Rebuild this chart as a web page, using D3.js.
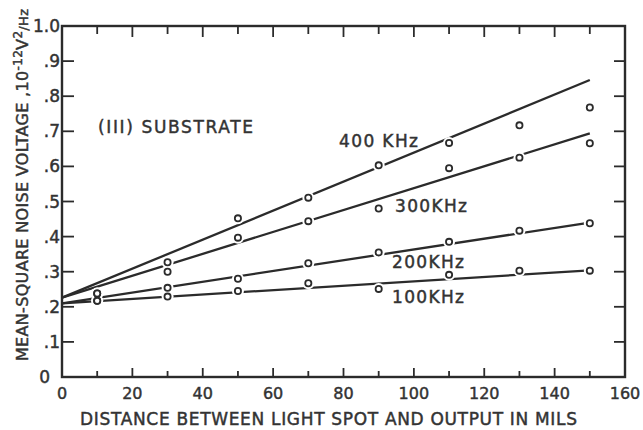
<!DOCTYPE html>
<html>
<head>
<meta charset="utf-8">
<script src="https://cdn.jsdelivr.net/npm/d3@7"></script>
<style>
  body { margin: 0; background: #fff; }
  text { font-family: "DejaVu Sans", sans-serif; fill: #333; stroke: #333; stroke-width: 0.45px; }
</style>
</head>
<body>
<div id="chart"></div>
<script>
// distance from light spot to output (mils)
const distance = [10, 30, 50, 70, 90, 110, 130, 150];
// measured mean-square noise voltage, 1e-12 V^2/Hz
const v400 = [0.238, 0.327, 0.452, 0.511, 0.603, 0.667, 0.717, 0.768];
const v300 = [0.238, 0.300, 0.397, 0.444, 0.480, 0.595, 0.625, 0.666];
const v200 = [0.217, 0.254, 0.280, 0.324, 0.355, 0.385, 0.417, 0.438];
const v100 = [0.217, 0.229, 0.245, 0.267, 0.251, 0.291, 0.303, 0.303];
// fitted straight lines, value at x = 0 and x = 150
const fitX = [0, 150];
const fit400 = [0.226, 0.846];
const fit300 = [0.226, 0.694];
const fit200 = [0.210, 0.440];
const fit100 = [0.210, 0.304];
const seriesNames = ["400 KHz", "300KHz", "200KHz", "100KHz"];
const xTicks = [0, 20, 40, 60, 80, 100, 120, 140, 160];
const yTicks = [0, 0.1, 0.2, 0.3, 0.4, 0.5, 0.6, 0.7, 0.8, 0.9, 1.0];

const W = 643, H = 430;
const ink = "#2b2b2b";

const svg = d3.select("#chart").append("svg")
    .attr("width", W)
    .attr("height", H);

const x = d3.scaleLinear().domain([0, 160]).range([62, 625]);
const y = d3.scaleLinear().domain([0, 1]).range([377, 26]);

// frame
svg.append("rect")
    .attr("x", x(0)).attr("y", y(1))
    .attr("width", x(160) - x(0)).attr("height", y(0) - y(1))
    .attr("fill", "none").attr("stroke", ink).attr("stroke-width", 2.4);

// inward ticks, every 10 mils, longer at every 20
const minorX = d3.range(10, 160, 10);
const tickG = svg.append("g").attr("stroke", ink).attr("stroke-width", 1.8);
tickG.selectAll(".tb").data(minorX).enter().append("line")
    .attr("x1", d => x(d)).attr("x2", d => x(d))
    .attr("y1", y(0)).attr("y2", d => y(0) - (d % 20 === 0 ? 9 : 6));
tickG.selectAll(".tt").data(minorX).enter().append("line")
    .attr("x1", d => x(d)).attr("x2", d => x(d))
    .attr("y1", y(1)).attr("y2", d => y(1) + (d % 20 === 0 ? 11 : 8));
const innerY = yTicks.slice(1, -1);
tickG.selectAll(".tl").data(innerY).enter().append("line")
    .attr("x1", x(0)).attr("x2", x(0) + 12)
    .attr("y1", d => y(d)).attr("y2", d => y(d));
tickG.selectAll(".tr").data(innerY).enter().append("line")
    .attr("x1", x(160)).attr("x2", x(160) - 11)
    .attr("y1", d => y(d)).attr("y2", d => y(d));

// tick labels
svg.selectAll(".xl").data(xTicks).enter().append("text")
    .attr("x", d => x(d)).attr("y", 399)
    .attr("text-anchor", "middle")
    .attr("font-size", 16)
    .text(d => d);

const fmtY = d => d === 0 ? "0" : (d === 1 ? "1.0" : d3.format(".1f")(d).replace(/^0/, ""));
svg.selectAll(".yl").data(yTicks).enter().append("text")
    .attr("x", d => d === 0 ? 50 : 60)
    .attr("y", d => y(d) + 6)
    .attr("text-anchor", "end")
    .attr("font-size", 17)
    .text(fmtY);

// axis titles
svg.append("text")
    .attr("x", 80).attr("y", 425)
    .attr("font-size", 17)
    .attr("textLength", 497).attr("lengthAdjust", "spacing")
    .text("DISTANCE BETWEEN LIGHT SPOT AND OUTPUT IN MILS");

const yt = svg.append("text")
    .attr("transform", "translate(28,361) rotate(-90)")
    .attr("font-size", 16)
    .attr("textLength", 352).attr("lengthAdjust", "spacing");
yt.append("tspan").text("MEAN-SQUARE NOISE VOLTAGE ,10");
yt.append("tspan").attr("dy", -6).attr("font-size", 12).text("-12");
yt.append("tspan").attr("dy", 6).text("V");
yt.append("tspan").attr("dy", -6).attr("font-size", 12).text("2");
yt.append("tspan").attr("dy", 6).attr("font-size", 13).text("/Hz");

// fitted lines
const fits = [fit400, fit300, fit200, fit100];
const line = d3.line().x(d => x(d[0])).y(d => y(d[1]));
svg.append("g").selectAll("path").data(fits).enter().append("path")
    .attr("d", f => line(fitX.map((xv, i) => [xv, f[i]])))
    .attr("fill", "none").attr("stroke", ink).attr("stroke-width", 2.3);

// measured points: white knock-out then open circle
const series = [v400, v300, v200, v100];
const pts = [];
series.forEach(s => s.forEach((v, i) => pts.push([distance[i], v])));
svg.append("g").selectAll("circle").data(pts).enter().append("circle")
    .attr("cx", d => x(d[0])).attr("cy", d => y(d[1])).attr("r", 6)
    .attr("fill", "#fff");
svg.append("g").selectAll("circle").data(pts).enter().append("circle")
    .attr("cx", d => x(d[0])).attr("cy", d => y(d[1])).attr("r", 3.1)
    .attr("fill", "#fff").attr("stroke", ink).attr("stroke-width", 1.8);

// series labels
const labelPos = [[339, 147], [395, 212], [392, 268], [392, 303]];
svg.selectAll(".sl").data(seriesNames).enter().append("text")
    .attr("x", (d, i) => labelPos[i][0]).attr("y", (d, i) => labelPos[i][1])
    .attr("font-size", 17)
    .attr("textLength", (d, i) => i === 0 ? 79 : 72).attr("lengthAdjust", "spacing")
    .text(d => d);

svg.append("text")
    .attr("x", 98).attr("y", 133)
    .attr("font-size", 17)
    .attr("textLength", 155).attr("lengthAdjust", "spacing")
    .text("(III) SUBSTRATE");
</script>
</body>
</html>
